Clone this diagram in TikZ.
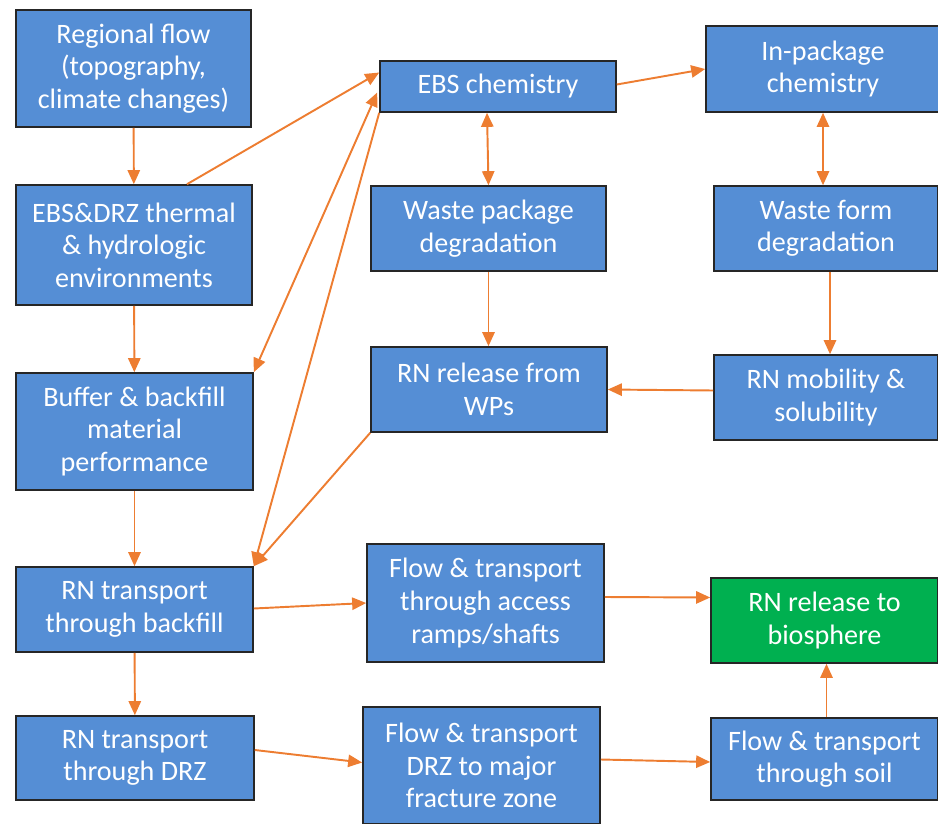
\documentclass[tikz,border=0pt]{standalone}
\usepackage{fontspec}
\setmainfont{Carlito}
\usetikzlibrary{arrows.meta,calc}

\definecolor{boxblue}{RGB}{85,142,213}
\definecolor{boxgreen}{RGB}{0,176,80}
\definecolor{arrorange}{RGB}{237,125,49}

\tikzset{
  caixa/.style={draw=black!85, line width=0.9pt, fill=boxblue, text=white,
    align=center, inner sep=2pt, font=\fontsize{16}{18.5}\selectfont},
  seta/.style={draw=arrorange, line width=1.1pt, -{Triangle[length=8pt,width=7pt]}},
  seta2/.style={draw=arrorange, line width=1.1pt, {Triangle[length=8pt,width=7pt]}-{Triangle[length=8pt,width=7pt]}}
}

\begin{document}
\begin{tikzpicture}[x=0.2mm, y=-0.2mm]
\useasboundingbox (0,0) rectangle (938,824);

% Coluna da esquerda
\node[caixa, minimum width=235*0.2mm, minimum height=117*0.2mm] (reg) at (133.5,68.5) {Regional flow\\(topography,\\climate changes)};
\node[caixa, minimum width=236*0.2mm, minimum height=120*0.2mm] (therm) at (134,245) {EBS\&DRZ thermal\\\& hydrologic\\environments};
\node[caixa, minimum width=237*0.2mm, minimum height=117*0.2mm] (buff) at (134.5,431.5) {Buffer \& backfill\\material\\performance};
\node[caixa, minimum width=237*0.2mm, minimum height=85*0.2mm] (rnbf) at (134.5,609.5) {RN transport\\through backfill};
\node[caixa, minimum width=238*0.2mm, minimum height=84*0.2mm] (rndrz) at (135,758) {RN transport\\through DRZ};

% Coluna do meio
\node[caixa, minimum width=236*0.2mm, minimum height=51*0.2mm] (ebs) at (498,86.5) {EBS chemistry};
\node[caixa, minimum width=235*0.2mm, minimum height=85*0.2mm] (wpd) at (488.5,228.5) {Waste package\\degradation};
\node[caixa, minimum width=236*0.2mm, minimum height=85*0.2mm] (rnwp) at (489,389.5) {RN release from\\WPs};
\node[caixa, minimum width=237*0.2mm, minimum height=118*0.2mm] (flacc) at (485.5,603) {Flow \& transport\\through access\\ramps/shafts};
\node[caixa, minimum width=237*0.2mm, minimum height=117*0.2mm] (fldrz) at (481.5,765.5) {Flow \& transport\\DRZ to major\\fracture zone};

% Coluna da direita
\node[caixa, minimum width=234*0.2mm, minimum height=86*0.2mm] (inpkg) at (823,69) {In-package\\chemistry};
\node[caixa, minimum width=224*0.2mm, minimum height=85*0.2mm] (wfd) at (826,228.5) {Waste form\\degradation};
\node[caixa, minimum width=224*0.2mm, minimum height=85*0.2mm] (rnmob) at (826,397.5) {RN mobility \&\\solubility};
\node[caixa, fill=boxgreen, minimum width=227*0.2mm, minimum height=85*0.2mm] (bio) at (824.5,620.5) {RN release to\\biosphere};
\node[caixa, minimum width=227*0.2mm, minimum height=82*0.2mm] (flsoil) at (824.5,759) {Flow \& transport\\through soil};

% Setas verticais
\draw[seta] (reg) -- (therm);
\draw[seta] (therm) -- (buff);
\draw[seta] (buff) -- (rnbf);
\draw[seta] (rnbf) -- (rndrz);
\draw[seta2] ($(ebs.south)+(-11,0)$) -- (wpd.north);
\draw[seta2] (inpkg.south) -- (inpkg.south |- wfd.north);
\draw[seta] (wpd.south) -- (wpd.south |- rnwp.north);
\draw[seta] ($(wfd.south)+(4,0)$) -- ($(rnmob.north)+(4,0)$);
\draw[seta] ($(flsoil.north)+(2,0)$) -- ($(bio.south)+(2,0)$);

% Setas inclinadas
\draw[seta] ($(therm.north)+(53,0)$) -- ($(ebs.west)+(0,-14)$);
\draw[seta] ($(ebs.east)+(0,-2)$) -- (inpkg.west);
\draw[seta2] ($(ebs.west)+(-2,6)$) -- (buff.north east);
\draw[seta] (ebs.south west) -- (rnbf.north east);
\draw[seta] (rnwp.south west) -- (rnbf.north east);
\draw[seta] ($(rnmob.west)+(0,-7)$) -- (rnwp.east);

% Setas horizontais de baixo
\draw[seta] ($(rnbf.east)+(0,-1)$) -- ($(flacc.west)+(0,0)$);
\draw[seta] ($(flacc.east)+(0,-6)$) -- ($(bio.west)+(0,-23)$);
\draw[seta] ($(rndrz.east)+(0,-8)$) -- ($(fldrz.west)+(0,-3)$);
\draw[seta] ($(fldrz.east)+(0,-6)$) -- ($(flsoil.west)+(0,3)$);

\end{tikzpicture}
\end{document}
